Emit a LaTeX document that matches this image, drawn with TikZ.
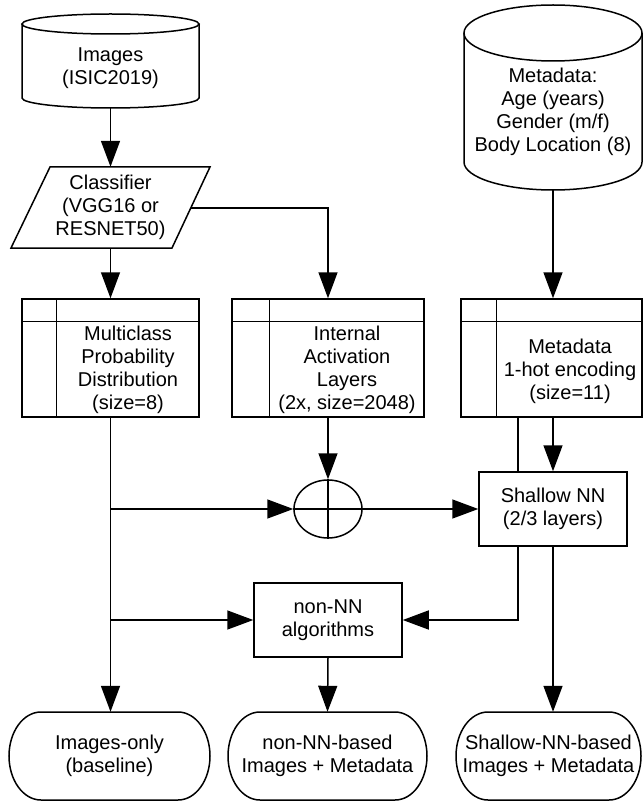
\documentclass[tikz,border=0pt]{standalone}
\usepackage{fontspec}
\setmainfont{Liberation Sans}
\usetikzlibrary{arrows.meta,shapes.geometric,calc}
\tikzset{
  ln/.style={line width=1.5pt},
  arr/.style={line width=1.5pt,-{Triangle[width=19pt,length=26pt]}},
  txt/.style={align=center,inner sep=0pt,font=\fontsize{20}{23}\selectfont},
  boxnode/.style={draw,line width=1.5pt,fill=white,align=center,inner sep=0pt,font=\fontsize{20}{23}\selectfont},
}
\newcommand\myterm[4]{%
  \draw[ln,fill=white] ({#2+32},712) -- ({#3-32},712)
    .. controls ({#3-14.3},712) and (#3,731.7) .. (#3,756)
    .. controls (#3,780.3) and ({#3-14.3},800) .. ({#3-32},800)
    -- ({#2+32},800)
    .. controls ({#2+14.3},800) and (#2,780.3) .. (#2,756)
    .. controls (#2,731.7) and ({#2+14.3},712) .. cycle;
  \node[txt,minimum width={#3-#2},minimum height=88] (#1) at ({(#2+#3)/2},756) {#4};}
\begin{document}
\begin{tikzpicture}[x=1pt,y=-1pt]
\useasboundingbox (0,0) rectangle (644,802);
% Images cylinder
\draw[ln,fill=white] (22,24) -- (22,98) .. controls (22,103.5) and (61.6,108) .. (110.5,108)
  .. controls (159.4,108) and (199,103.5) .. (199,98) -- (199,24);
\draw[ln,fill=white] (110.5,24) ellipse [x radius=88.5,y radius=10];
\node[txt,minimum width=177,minimum height=80] (img) at (110.5,68) {Images\\(ISIC2019)};
% Metadata cylinder
\draw[ln,fill=white] (464,33) -- (464,162) .. controls (464,177.5) and (503.8,190) .. (553,190)
  .. controls (602.2,190) and (642,177.5) .. (642,162) -- (642,33);
\draw[ln,fill=white] (553,33) ellipse [x radius=89,y radius=28];
\node[txt,minimum width=178,minimum height=156] (meta) at (553,112) {Metadata:\\Age (years)\\Gender (m/f)\\Body Location (8)};
% Classifier parallelogram
\draw[ln,fill=white] (50,167) -- (210,167) -- (172,248) -- (11,248) -- cycle;
\node[txt,minimum width=150,minimum height=81] (cls) at (110.5,207.5) {Classifier\\(VGG16 or\\RESNET50)};
\coordinate (clsR) at (191,208);
% Internal storage boxes
\node[boxnode,minimum width=177,minimum height=118] (mc) at (110.5,358) {};
\draw[ln] ([yshift=-23pt]mc.north west) -- ([yshift=-23pt]mc.north east);
\draw[ln] ([xshift=35pt]mc.north west) -- ([xshift=35pt]mc.south west);
\node[txt] (mct) at (128,370) {Multiclass\\Probability\\Distribution\\(size=8)};
\node[boxnode,minimum width=192,minimum height=118] (ia) at (328,358) {};
\draw[ln] ([yshift=-23pt]ia.north west) -- ([yshift=-23pt]ia.north east);
\draw[ln] ([xshift=38pt]ia.north west) -- ([xshift=38pt]ia.south west);
\node[txt] (iat) at (347,370) {Internal\\Activation\\Layers\\(2x, size=2048)};
\node[boxnode,minimum width=181,minimum height=118] (enc) at (551.5,358) {};
\draw[ln] ([yshift=-23pt]enc.north west) -- ([yshift=-23pt]enc.north east);
\draw[ln] ([xshift=36pt]enc.north west) -- ([xshift=36pt]enc.south west);
\node[txt] (enct) at (570,371) {Metadata\\1-hot encoding\\(size=11)};
% Sum
\node[draw,ellipse,line width=1.5pt,minimum width=68,minimum height=58,inner sep=0pt] (sum) at (328,509) {};
\draw[ln] (sum.north) -- (sum.south) (sum.west) -- (sum.east);
% non-NN
\node[boxnode,minimum width=148,minimum height=74] (nn) at (328,620) {non-NN\\algorithms};
% Terminals
\myterm{t1}{9}{210}{Images-only\\(baseline)}
\myterm{t2}{228}{427}{non-NN-based\\Images + Metadata}
\myterm{t3}{456}{641}{Shallow-NN-based\\Images + Metadata}
% line behind shallow NN
\draw[arr] ([xshift=-33.5pt]enc.south) |- (nn.east);
% Shallow NN
\node[boxnode,minimum width=148,minimum height=74] (shl) at (553,509) {Shallow NN\\(2/3 layers)};
% Connectors
\draw[arr] (img.south) -- (cls.north);
\draw[arr] (cls.south) -- (mc.north);
\draw[arr] (clsR) -| (ia.north);
\draw[arr] (meta.south) -- (meta.south |- enc.north);
\draw[arr] (ia.south) -- (sum.north);
\draw[arr] (mc.south) -- (mc.south |- t1.north);
\draw[arr] (mc.south |- sum.west) -- (sum.west);
\draw[arr] (mc.south |- nn.west) -- (nn.west);
\draw[arr] (sum.east) -- (shl.west);
\draw[arr] (enc.south -| shl.north) -- (shl.north);
\draw[arr] (nn.south) -- (t2.north);
\draw[arr] (shl.south) -- (shl.south |- t3.north);
\end{tikzpicture}
\end{document}
